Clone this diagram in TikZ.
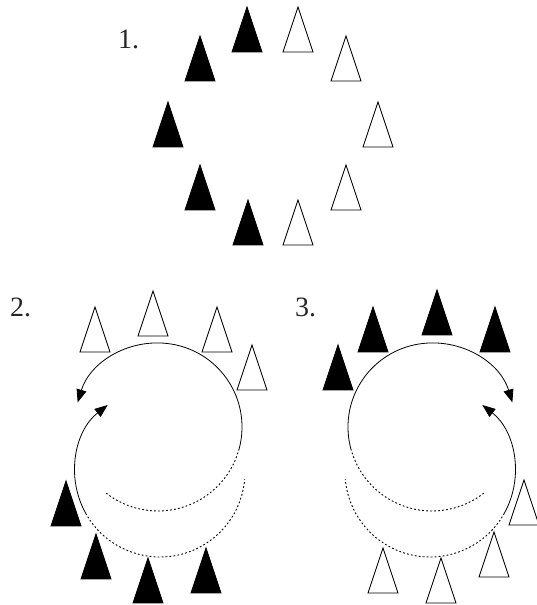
\documentclass[tikz,border=0pt]{standalone}
\usepackage{fontspec}
\setmainfont{Liberation Serif}
\usetikzlibrary{arrows.meta}
\begin{document}
\begin{tikzpicture}[x=1pt,y=1pt,
  blk/.pic={\filldraw[line width=0.9pt,line join=miter] (-15,0) -- (0,45) -- (15,0) -- cycle;},
  wht/.pic={\filldraw[fill=white,line width=0.9pt,line join=miter] (-15,0) -- (0,45) -- (15,0) -- cycle;},
  solidarc/.style={line width=0.8pt},
  dotarc/.style={line width=0.9pt,dash pattern=on 1.8pt off 2.2pt},
  arr/.style={-{Triangle[length=13pt,width=10pt]}},
  lbl/.style={anchor=base west,inner sep=0pt,font=\fontsize{28}{30}\selectfont,text=black!85}]
\useasboundingbox (0,0) rectangle (537,605);
% labels
\node[lbl] (l1) at (118,556) {1.};
\node[lbl] (l2) at (10,288) {2.};
\node[lbl] (l3) at (295,288) {3.};
% panel 1
\pic at (200,524) {blk};
\pic at (247,553) {blk};
\pic at (298,553) {wht};
\pic at (346,524) {wht};
\pic at (168,458) {blk};
\pic at (378,458) {wht};
\pic at (200,395) {blk};
\pic at (346,395) {wht};
\pic at (248,360) {blk};
\pic at (298,360) {wht};
% panel 2 circles
\coordinate (c2u) at (158,178);
\coordinate (c2l) at (160,133);
\draw[solidarc,arr] ([shift={(-15:84)}]c2u) arc[start angle=-15,end angle=163,radius=84];
\draw[dotarc] ([shift={(-15:84)}]c2u) arc[start angle=-15,end angle=-128,radius=84];
\draw[solidarc,arr] ([shift={(209:85)}]c2l) arc[start angle=209,end angle=128,radius=85];
\draw[dotarc] ([shift={(209:85)}]c2l) arc[start angle=209,end angle=355,radius=85];
% panel 3 circles
\coordinate (c3u) at (432,178);
\coordinate (c3l) at (430,133);
\draw[solidarc,arr] ([shift={(195:84)}]c3u) arc[start angle=195,end angle=17,radius=84];
\draw[dotarc] ([shift={(195:84)}]c3u) arc[start angle=195,end angle=308,radius=84];
\draw[solidarc,arr] ([shift={(-29:85)}]c3l) arc[start angle=-29,end angle=52,radius=85];
\draw[dotarc] ([shift={(-29:85)}]c3l) arc[start angle=-29,end angle=-175,radius=85];
% panel 2 triangles
\pic at (95,253) {wht};
\pic at (153,269) {wht};
\pic at (217,253) {wht};
\pic at (252,215) {wht};
\pic at (66,79) {blk};
\pic at (96,26) {blk};
\pic at (148,2) {blk};
\pic at (206,12) {blk};
% panel 3 triangles
\pic at (338,215) {blk};
\pic at (373,253) {blk};
\pic at (437,270) {blk};
\pic at (495,253) {blk};
\pic at (524,80) {wht};
\pic at (494,28) {wht};
\pic at (441,2) {wht};
\pic at (383,12) {wht};
\end{tikzpicture}
\end{document}
